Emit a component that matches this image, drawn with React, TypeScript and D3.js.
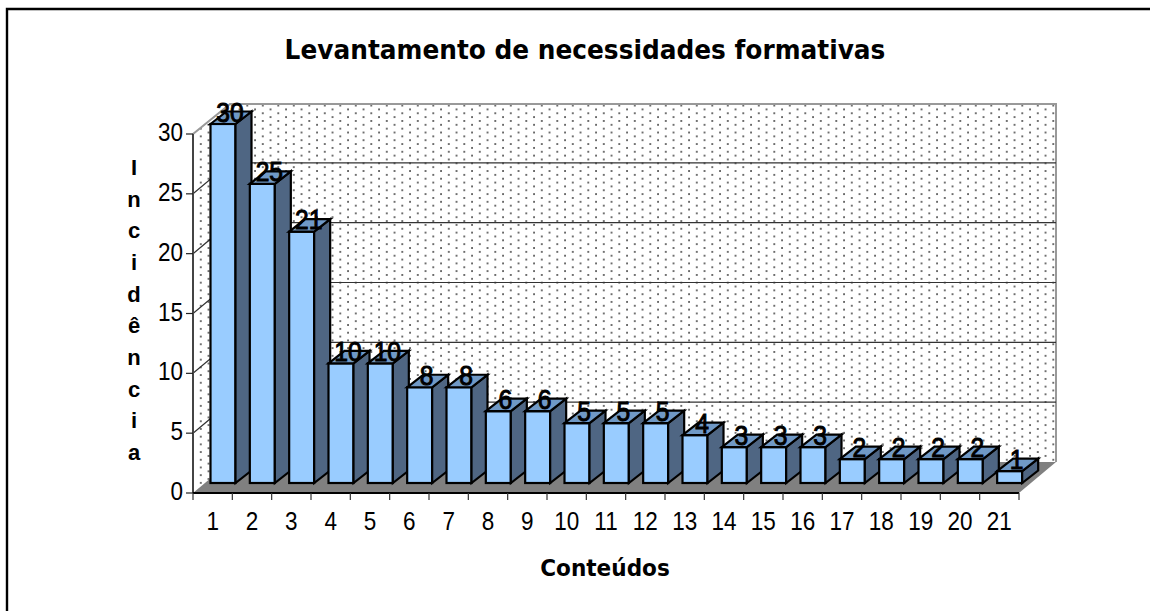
import React from "react";
import * as d3 from "d3";

const categories = d3.range(1, 22).map(String);
const values = [30, 25, 21, 10, 10, 8, 8, 6, 6, 5, 5, 5, 4, 3, 3, 3, 2, 2, 2, 2, 1];
const yTicks = [0, 5, 10, 15, 20, 25, 30];
const titleText = "Levantamento de necessidades formativas";
const xTitle = "Conteúdos";
const yTitle = ["I", "n", "c", "i", "d", "ê", "n", "c", "i", "a"];

const ARIAL = "'Liberation Sans', Arial, sans-serif";
const DEJA = "'DejaVu Sans', Verdana, sans-serif";

const DX = 37;
const DY = 31;
const X0 = 193;
const X1 = 1019;
const Y0 = 493;
const YT = 134;

const x = d3.scaleBand<string>().domain(categories).range([X0, X1]);
const y = d3.scaleLinear().domain([0, 30]).range([Y0, YT]);
const titleY = d3.scalePoint<number>().domain(d3.range(yTitle.length)).range([175, 460]);

const BAR_INSET = 17.5;
const BAR_W = 25;
const BAR_FRONT_LIFT = 10;
const SIDE_X = 16;
const SIDE_Y = 12.5;

const pts = (a: [number, number][]) => a.map((p) => p.join(",")).join(" ");

export default function App() {
  const wallRight = X1 + DX;
  const wallLeft = X0 + DX;
  const backBottom = Y0 - DY;
  const backTop = YT - DY + 1;

  return (
    <svg
      width={1150}
      height={611}
      style={{ position: "absolute", left: 0, top: 0, display: "block", background: "#fff" }}
    >
      <defs>
        <pattern id="dots" patternUnits="userSpaceOnUse" x={1052.3} y={112.3} width={15.5} height={7.7}>
          <circle cx={1} cy={1} r={1} fill="#444" />
          <circle cx={8.75} cy={4.85} r={1} fill="#444" />
        </pattern>
      </defs>

      <path d="M7,611 V9 H1150" fill="none" stroke="#000" strokeWidth={2.4} />

      <text
        transform="translate(585,59) scale(0.92,1)"
        textAnchor="middle"
        fontFamily={DEJA}
        fontWeight="bold"
        fontSize={27}
      >
        {titleText}
      </text>

      {/* walls */}
      <polygon
        points={pts([[X0, YT], [wallLeft, backTop], [wallLeft, backBottom], [X0, Y0]])}
        fill="url(#dots)"
      />
      <rect x={wallLeft} y={backTop} width={wallRight - wallLeft} height={backBottom - backTop} fill="url(#dots)" />
      <polyline
        points={pts([[X0, YT], [wallLeft, backTop], [wallRight, backTop], [wallRight, backBottom]])}
        fill="none"
        stroke="#999"
        strokeWidth={2}
      />
      <polygon
        points={pts([[X0, Y0], [wallLeft, backBottom], [wallRight, backBottom], [X1, Y0]])}
        fill="#808080"
      />

      {/* gridlines */}
      {yTicks.filter((t) => t > 0 && t < 30).map((t) => (
        <polyline
          key={t}
          points={pts([[X0, y(t)], [wallLeft, y(t) - DY], [wallRight, y(t) - DY]])}
          fill="none"
          stroke="#333"
          strokeWidth={1.2}
        />
      ))}

      {/* axes */}
      <line x1={X0} x2={X0} y1={YT} y2={Y0} stroke="#444" strokeWidth={2} />
      <line x1={X0} x2={X1} y1={Y0} y2={Y0} stroke="#000" strokeWidth={2} />
      {yTicks.map((t) => (
        <g key={t}>
          <line x1={X0 - 7} x2={X0} y1={y(t)} y2={y(t)} stroke="#222" strokeWidth={1.2} />
          <text
            transform={`translate(183,${y(t) + 7}) scale(0.9,1)`}
            textAnchor="end"
            fontFamily={ARIAL}
            fontSize={25}
          >
            {t}
          </text>
        </g>
      ))}
      {[...categories.map((c) => x(c)!), X1].map((px, i) => (
        <line key={i} x1={px} x2={px} y1={Y0} y2={Y0 + 7} stroke="#333" strokeWidth={1.2} />
      ))}
      {categories.map((c) => (
        <text
          key={c}
          transform={`translate(${x(c)! + x.bandwidth() / 2},530) scale(0.9,1)`}
          textAnchor="middle"
          fontFamily={ARIAL}
          fontSize={25}
        >
          {c}
        </text>
      ))}

      {/* bars */}
      {values.map((v, i) => {
        const left = x(categories[i])! + BAR_INSET;
        const right = left + BAR_W;
        const bottom = y(0) - BAR_FRONT_LIFT;
        const top = y(v) - BAR_FRONT_LIFT;
        return (
          <g key={i} stroke="#000" strokeWidth={2.2} strokeLinejoin="miter">
            <rect x={left} y={top} width={BAR_W} height={bottom - top} fill="#99CCFF" />
            <polygon
              points={pts([
                [right, top],
                [right + SIDE_X, top - SIDE_Y],
                [right + SIDE_X, bottom - SIDE_Y],
                [right, bottom],
              ])}
              fill="#4F6683"
            />
            <polygon
              points={pts([
                [left, top],
                [left + SIDE_X, top - SIDE_Y],
                [right + SIDE_X, top - SIDE_Y],
                [right, top],
              ])}
              fill="#7099C6"
            />
          </g>
        );
      })}

      {/* data labels */}
      {values.map((v, i) => (
        <text
          key={i}
          transform={`translate(${x(categories[i])! + BAR_INSET + BAR_W / 2 + 7},${y(v) - BAR_FRONT_LIFT - 2.5}) scale(0.88,1)`}
          textAnchor="middle"
          fontFamily={ARIAL}
          fontSize={28}
          stroke="#000"
          strokeWidth={1}
        >
          {v}
        </text>
      ))}

      {yTitle.map((ch, i) => (
        <text key={i} x={134} y={titleY(i)} textAnchor="middle" fontFamily={ARIAL} fontWeight="bold" fontSize={22}>
          {ch}
        </text>
      ))}
      <text
        transform="translate(605,576) scale(0.92,1)"
        textAnchor="middle"
        fontFamily={DEJA}
        fontWeight="bold"
        fontSize={23.5}
      >
        {xTitle}
      </text>
    </svg>
  );
}
